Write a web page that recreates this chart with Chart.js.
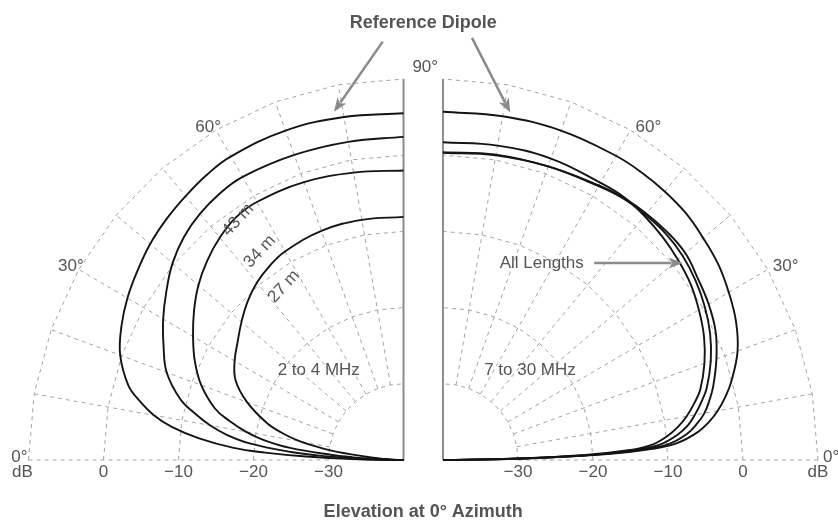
<!DOCTYPE html>
<html>
<head>
<meta charset="utf-8">
<script src="https://cdn.jsdelivr.net/npm/chart.js@4.4.1/dist/chart.umd.min.js"></script>
<style>
  html, body { margin: 0; padding: 0; background: #fff; }
  #wrap { width: 838px; height: 520px; position: relative; }
</style>
</head>
<body>
<div id="wrap"><canvas id="chart"></canvas></div>
<script>
// elevation angles (deg) used for every pattern
const angles = [0, 1, 2, 3, 4, 6, 8, 10, 12.5, 15, 20, 25, 30, 35, 40, 45, 50, 55, 60, 70, 80, 90];

// 2 to 4 MHz (left half), gain in dB
const lowDipole = [-40, -33, -27, -21.5, -17.3, -12.5, -8.8, -6.2, -3.9, -2.0, 0.2, 1.5, 2.5, 3.3, 4.1, 4.7, 5.2, 5.7, 6.0, 6.0, 5.7, 5.5];
const low43m    = [-40, -36, -32.5, -28.5, -25, -19.5, -16.2, -13.8, -11.4, -9.2, -6.4, -4.7, -3.0, -1.4, 0.2, 1.4, 2.2, 2.7, 2.9, 2.6, 2.4, 2.4];
const low34m    = [-40, -38, -35.5, -33.3, -30.5, -24.8, -21.2, -18.7, -16.2, -14.0, -11.3, -9.3, -7.6, -5.9, -4.3, -3.0, -1.9, -1.1, -0.9, -1.2, -1.7, -2.0];
const low27m    = [-40, -39.5, -38.5, -37.5, -36.3, -33, -29.2, -26, -23.3, -21.1, -17.8, -15.3, -14.0, -13.0, -11.8, -10.6, -9.6, -8.9, -8.4, -8.0, -8.0, -8.1];

// 7 to 30 MHz (right half), gain in dB
const highDipole = [-40, -29, -18, -12, -8.8, -6.0, -4.2, -2.8, -1.4, -0.2, 1.8, 3.1, 4.0, 4.8, 5.3, 5.8, 6.0, 6.1, 6.1, 6.0, 5.8, 5.7];
const highLenA   = [-40, -31, -21, -15, -12.2, -9.9, -8.3, -7.0, -5.7, -4.5, -2.9, -1.6, -0.6, 0.3, 0.9, 1.4, 1.8, 2.1, 2.0, 2.1, 1.9, 1.7];
const highLenB   = [-40, -30.5, -20, -14, -11.0, -8.6, -7.0, -5.9, -4.7, -3.6, -2.0, -0.7, 0.3, 1.1, 1.7, 2.0, 2.0, 1.9, 1.5, 1.0, 0.7, 0.4];
const highLenC   = [-40, -30, -19, -13, -9.8, -7.3, -5.8, -4.6, -3.6, -2.7, -1.2, 0.1, 0.9, 1.5, 2.2, 2.3, 2.2, 2.0, 1.6, 1.0, 0.6, 0.3];

// grid
const ringDb = [10, 0, -10, -20, -30];
const ringLabels = ['dB', '0', '\u221210', '\u221220', '\u221230'];
const spokeAngles = [0, 10, 20, 30, 40, 50, 60, 70, 80];
const ringVertexAngles = [0, 10, 20, 30, 40, 50, 60, 70, 80, 90];
const angleLabels = [0, 30, 60];

const FLOOR = -40;   // dB at the centre of each half
const GAP = 2.63;    // half distance between the two centres

function pt(side, deg, db) {
  const r = Math.max(0, db - FLOOR);
  const a = deg * Math.PI / 180;
  return { x: side * (GAP + r * Math.cos(a)), y: r * Math.sin(a) };
}

const datasets = [];

function curve(side, values) {
  datasets.push({
    data: angles.map((a, i) => pt(side, a, values[i])),
    borderColor: '#141414', borderWidth: 1.9, tension: 0.4,
    pointRadius: 0, showLine: true, order: 0
  });
}

function gridFor(side) {
  ringDb.forEach(db => {
    datasets.push({
      data: ringVertexAngles.map(a => pt(side, a, db)),
      borderColor: '#a3a3a3', borderWidth: 1, borderDash: [4, 4], tension: 0,
      pointRadius: 0, showLine: true, order: 3
    });
  });
  spokeAngles.forEach(a => {
    datasets.push({
      data: [pt(side, a, -30), pt(side, a, 10)],
      borderColor: '#a3a3a3', borderWidth: 1, borderDash: [4, 4],
      pointRadius: 0, showLine: true, order: 3
    });
  });
  // 90 degree axis
  datasets.push({
    data: [pt(side, 90, FLOOR), pt(side, 90, 10)],
    borderColor: '#8c8c8c', borderWidth: 2,
    pointRadius: 0, showLine: true, order: 1
  });
}

gridFor(-1);
gridFor(1);
curve(-1, lowDipole);
curve(-1, low43m);
curve(-1, low34m);
curve(-1, low27m);
curve(1, highDipole);
curve(1, highLenA);
curve(1, highLenB);
curve(1, highLenC);

const FONT = '"Liberation Sans", Arial, sans-serif';
const GREY = '#555';

function arrow(ctx, x1, y1, x2, y2) {
  const ang = Math.atan2(y2 - y1, x2 - x1);
  const hl = 14, hw = 5.5;
  ctx.save();
  ctx.strokeStyle = '#8a8a8a';
  ctx.fillStyle = '#8a8a8a';
  ctx.lineWidth = 2.5;
  ctx.beginPath();
  ctx.moveTo(x1, y1);
  ctx.lineTo(x2 - Math.cos(ang) * hl * 0.8, y2 - Math.sin(ang) * hl * 0.8);
  ctx.stroke();
  ctx.beginPath();
  ctx.moveTo(x2, y2);
  ctx.lineTo(x2 - Math.cos(ang) * hl + Math.sin(ang) * hw, y2 - Math.sin(ang) * hl - Math.cos(ang) * hw);
  ctx.lineTo(x2 - Math.cos(ang) * hl * 0.75, y2 - Math.sin(ang) * hl * 0.75);
  ctx.lineTo(x2 - Math.cos(ang) * hl - Math.sin(ang) * hw, y2 - Math.sin(ang) * hl + Math.cos(ang) * hw);
  ctx.closePath();
  ctx.fill();
  ctx.restore();
}

const textPlugin = {
  id: 'polarText',
  afterDatasetsDraw(chart) {
    const { ctx, scales: { x, y } } = chart;
    const px = p => [x.getPixelForValue(p.x), y.getPixelForValue(p.y)];
    ctx.save();
    ctx.fillStyle = GREY;
    ctx.font = '17px ' + FONT;

    // angle labels at the outer ring
    angleLabels.forEach(a => {
      [-1, 1].forEach(side => {
        const [vx, vy] = px(pt(side, a, 10));
        ctx.textBaseline = 'alphabetic';
        if (side < 0) {
          ctx.textAlign = 'right';
          ctx.fillText(a + '\u00b0', vx + (a === 0 ? -1 : 5), vy + 2);
        } else {
          ctx.textAlign = 'left';
          ctx.fillText(a + '\u00b0', vx + 5, vy + 2);
        }
      });
    });
    // 90 deg, between the halves
    {
      const [cx, cy] = px({ x: 0, y: 50.9 });
      ctx.textAlign = 'center';
      ctx.fillText('90\u00b0', cx + 2, cy);
    }

    // dB labels along the base
    ctx.textAlign = 'center';
    ctx.textBaseline = 'top';
    ringDb.forEach((db, i) => {
      [-1, 1].forEach(side => {
        const [vx, vy] = px(pt(side, 0, db));
        const shift = (i === 0 && side < 0) ? -6 : 0;
        ctx.fillText(ringLabels[i], vx + shift, vy + 4);
      });
    });

    // band labels
    ctx.textBaseline = 'middle';
    let p = px({ x: -GAP - 11.3, y: 11.8 });
    ctx.fillText('2 to 4 MHz', p[0], p[1]);
    p = px({ x: GAP + 11.6, y: 11.8 });
    ctx.fillText('7 to 30 MHz', p[0], p[1]);

    // length labels
    [['43 m', -1.5], ['34 m', -6.6], ['27 m', -12.2]].forEach(([t, db]) => {
      const q = px(pt(-1, 55, db));
      ctx.save();
      ctx.translate(q[0], q[1]);
      ctx.rotate(-47 * Math.PI / 180);
      ctx.textAlign = 'center';
      ctx.textBaseline = 'middle';
      ctx.fillText(t, 0, 0);
      ctx.restore();
    });

    // All Lengths
    p = px({ x: 15.8, y: 25.85 });
    ctx.textAlign = 'center';
    ctx.fillText('All Lengths', p[0], p[1]);
    let a1 = px({ x: 22.8, y: 25.85 }), a2 = px({ x: 34.6, y: 25.85 });
    arrow(ctx, a1[0], a1[1], a2[0], a2[1]);

    // titles
    ctx.font = 'bold 18px ' + FONT;
    ctx.textBaseline = 'alphabetic';
    p = px({ x: 0, y: 56.7 });
    ctx.fillText('Reference Dipole', p[0], p[1]);
    p = px({ x: 0, y: -7.45 });
    ctx.fillText('Elevation at 0\u00b0 Azimuth', p[0], p[1]);

    a1 = px({ x: -5.4, y: 54.9 }); a2 = px({ x: -11.9, y: 45.7 });
    arrow(ctx, a1[0], a1[1], a2[0], a2[1]);
    a1 = px({ x: 6.5, y: 55.4 }); a2 = px({ x: 11.6, y: 45.6 });
    arrow(ctx, a1[0], a1[1], a2[0], a2[1]);

    ctx.restore();
  }
};

new Chart(document.getElementById('chart').getContext('2d'), {
  type: 'scatter',
  data: { datasets: datasets },
  options: {
    responsive: true,
    maintainAspectRatio: false,
    animation: false,
    events: [],
    layout: { padding: 0 },
    plugins: { legend: { display: false }, tooltip: { enabled: false } },
    scales: {
      x: { type: 'linear', min: -56.43, max: 55.30, display: false },
      y: { type: 'linear', min: -7.874, max: 60.367, display: false }
    }
  },
  plugins: [textPlugin]
});
</script>
</body>
</html>
